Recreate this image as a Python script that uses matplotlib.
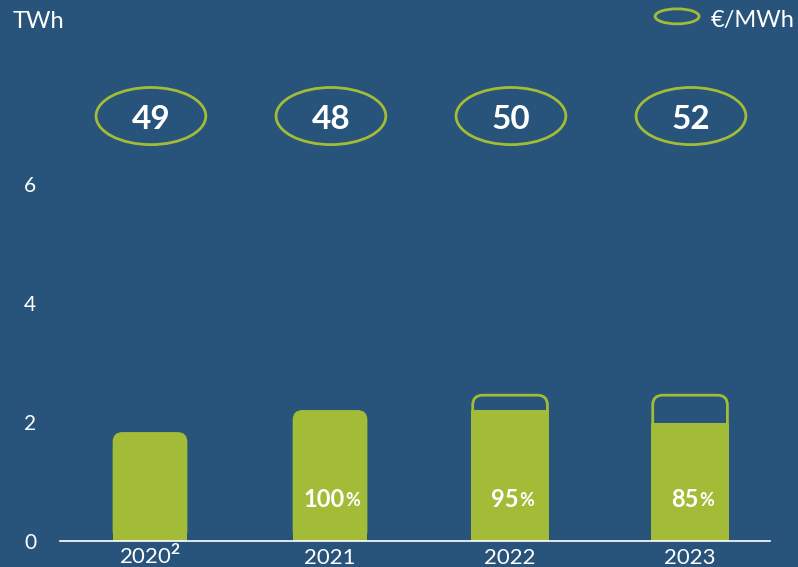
import matplotlib
matplotlib.use("Agg")
import matplotlib.pyplot as plt
import numpy as np
from matplotlib.patches import Ellipse, FancyBboxPatch

years = ["2020$^{\\mathbf{2}}$", "2021", "2022", "2023"]
twh = [1.83, 2.2, 2.2, 1.98]
capacity = [np.nan, np.nan, 2.45, 2.45]
share_pct = [np.nan, 100, 95, 85]
price = [49, 48, 50, 52]

BG = "#28537A"
GREEN = "#A3BC37"
plt.rcParams["font.family"] = ["Lato", "DejaVu Sans"]
plt.rcParams["mathtext.fontset"] = "custom"
plt.rcParams["mathtext.rm"] = "Lato"
plt.rcParams["mathtext.bf"] = "Lato:bold"

fig = plt.figure(figsize=(7.98, 5.67), dpi=100, facecolor=BG)
W, H = 798, 567
ax = fig.add_axes([60 / W, 26 / H, 710 / W, (H - 26) / H])
ax.set_facecolor(BG)

x = np.arange(len(years))
bw = 0.415
rad = 0.055
aspect = 180 / 59.5

for xi, val, cap in zip(x, twh, capacity):
    x0 = xi - bw / 2
    if np.isnan(cap):
        # filled bar with rounded top
        ax.add_patch(FancyBboxPatch((x0, 0), bw, val,
                                    boxstyle=f"round,pad=0,rounding_size={rad}",
                                    mutation_aspect=aspect, fc=GREEN, ec="none"))
        ax.bar(xi, val - rad * aspect, bw, color=GREEN)
    else:
        # capacity outline, then the produced share on top of it
        ax.add_patch(FancyBboxPatch((x0, 0), bw, cap,
                                    boxstyle=f"round,pad=0,rounding_size={rad}",
                                    mutation_aspect=aspect, fc="none", ec=GREEN, lw=2))
        ax.bar(xi, val, bw + 0.02, color=GREEN)

for xi, p in zip(x, share_pct):
    if np.isnan(p):
        continue
    txt = f"{p:.0f}"
    off = (len(txt) * 8.5 - 10) / 2 + 2.5
    ax.annotate(txt, (xi, 0.7), xytext=(off, 0), textcoords="offset points",
                ha="right", va="center", color="white", fontsize=17, fontweight="bold")
    ax.annotate("%", (xi, 0.68), xytext=(off + 0.5, 0), textcoords="offset points",
                ha="left", va="center", color="white", fontsize=13, fontweight="bold")

for xi, pr in zip(x, price):
    ax.add_patch(Ellipse((xi + 0.005, 7.14), 0.61, 0.96, fc="none", ec=GREEN, lw=2, clip_on=False))
    ax.text(xi + 0.005, 7.09, str(pr), ha="center", va="center", color="white",
            fontsize=24, fontweight="bold")

ax.set_xlim(-0.5, 3.444)
ax.set_ylim(0, 9.09)
ax.set_yticks([0, 2, 4, 6])
ax.set_xticks(x, years)
ax.tick_params(axis="y", length=0, pad=17, labelsize=15, colors="white")
ax.tick_params(axis="x", length=0, pad=16.5, labelsize=16, colors="white")
for lbl in ax.get_xticklabels():
    lbl.set_va("baseline")
for s in ["top", "right", "left"]:
    ax.spines[s].set_visible(False)
ax.spines["bottom"].set_color("white")
ax.spines["bottom"].set_linewidth(1.2)

fig.text(13 / W, 1 - 22 / H, "TWh", color="white", fontsize=17, va="center", ha="left")
ax.add_patch(Ellipse(((677 - 150) / 180, (541 - 16.5) / 59.5), 44 / 180, 15 / 59.5,
                     fc="none", ec=GREEN, lw=2, clip_on=False))
fig.text(711 / W, 1 - 21 / H, "€/MWh", color="white", fontsize=17, va="center", ha="left")

fig.savefig("out.png", facecolor=BG)
